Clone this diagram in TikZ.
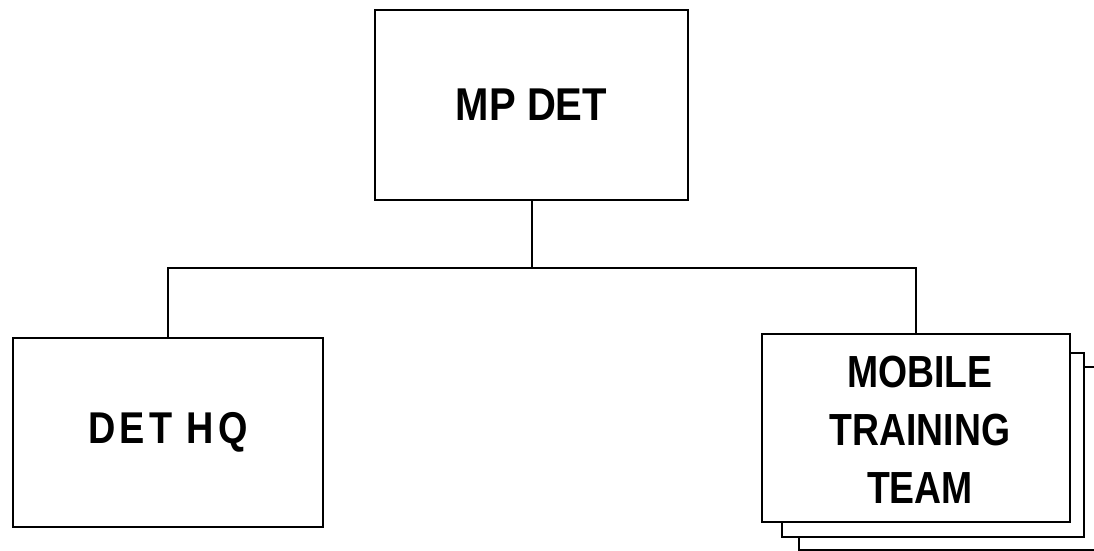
\documentclass[tikz,border=0pt]{standalone}
\usepackage{fontspec}
\newfontfamily\mpfont[FakeStretch=0.87]{Liberation Sans}
\newfontfamily\hqfont[FakeStretch=0.85,LetterSpace=9]{Liberation Sans}
\newfontfamily\mttfont[FakeStretch=0.83]{Liberation Sans}
\begin{document}
\begin{tikzpicture}[x=1pt,y=-1pt,
  orgbox/.style={draw,line width=2pt,fill=white,inner sep=0pt,align=center},
  boxtext/.style={inner sep=0pt,align=center},
  link/.style={line width=2pt}]
\useasboundingbox (0,0) rectangle (1094,551);
\clip (0,0) rectangle (1094,551);
% boxes
\node[orgbox,minimum width=313pt,minimum height=190pt,font=\mpfont\bfseries\fontsize{46}{56}\selectfont] (mp) at (531.5,105) {MP DET};
\node[orgbox,minimum width=310pt,minimum height=189pt,font=\hqfont\bfseries\fontsize{44.5}{52}\selectfont] (hq) at (168,432.5) {DET HQ};
\node[orgbox,minimum width=320pt,minimum height=183pt] (back2) at (959,458.5) {};
\node[orgbox,minimum width=302pt,minimum height=184pt] (back1) at (933,445) {};
\node[orgbox,minimum width=308pt,minimum height=188pt] (mtt) at (916,428) {};
\node[boxtext,font=\mttfont\bfseries\fontsize{45}{58}\selectfont] (mttlabel) at (920,430) {MOBILE\\TRAINING\\TEAM};
% connectors
\coordinate (j) at (mp.south |- 0,268);
\draw[link] (mp.south) -- (j);
\draw[link] (hq.north) -- (hq.north |- j) -- (mtt.north |- j) -- (mtt.north);
\end{tikzpicture}
\end{document}
